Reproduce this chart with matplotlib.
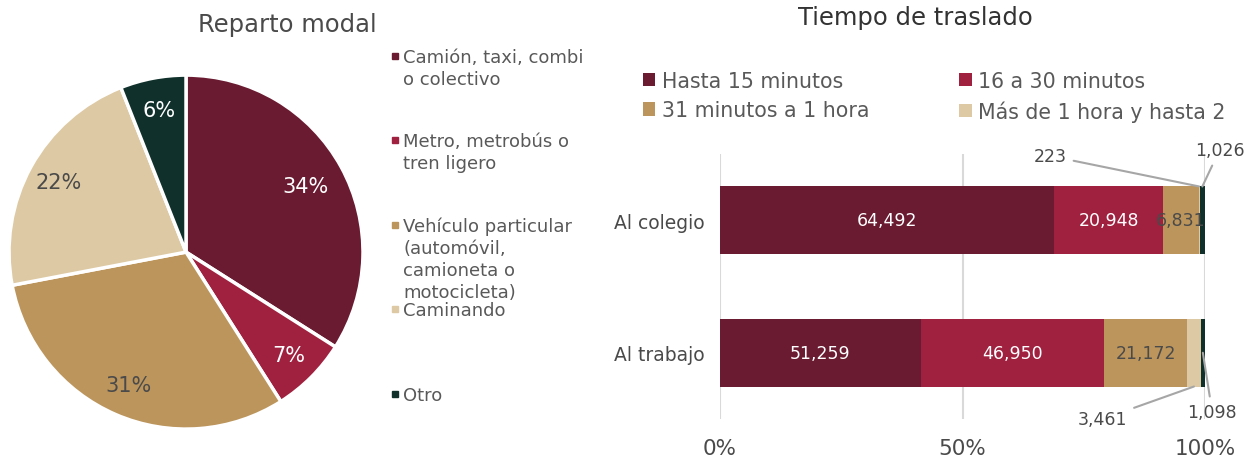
import numpy as np
import matplotlib.pyplot as plt
from matplotlib.patches import Rectangle

plt.rcParams['font.family'] = ['DejaVu Sans']

# reparto modal (porcentajes)
modos = ['Camión, taxi, combi\no colectivo', 'Metro, metrobús o\ntren ligero',
         'Vehículo particular\n(automóvil,\ncamioneta o\nmotocicleta)', 'Caminando', 'Otro']
modos_pct = [34, 7, 31, 22, 6]

# tiempo de traslado (personas)
destinos = ['Al trabajo', 'Al colegio']
rangos = ['Hasta 15 minutos', '16 a 30 minutos', '31 minutos a 1 hora',
          'Más de 1 hora y hasta 2', 'Más de 2 horas']
colegio = [64492, 20948, 6831, 223, 1026]
trabajo = [51259, 46950, 21172, 3461, 1098]

colores = ['#6a1b31', '#a0213f', '#bc955c', '#ddc9a3', '#10312b']
gris = '#4a4a4a'
gris_txt = '#595959'

fig = plt.figure(figsize=(12.53, 4.6), dpi=100)

# ---- pie ----
ax1 = fig.add_axes([0.0072, 0.065, 0.2825, 0.7696])
wedges, _, autotexts = ax1.pie(modos_pct, colors=colores, startangle=90, counterclock=False,
                               autopct='%d%%', pctdistance=0.82,
                               wedgeprops=dict(edgecolor='white', linewidth=2.5),
                               textprops=dict(fontsize=15))
for t, c in zip(autotexts, ['white', 'white', gris, gris, 'white']):
    t.set_color(c)
# la etiqueta del sector mayor va un poco más adentro
x0, y0 = autotexts[0].get_position()
autotexts[0].set_position((x0 * 0.77 / 0.82, y0 * 0.77 / 0.82))
ax1.set_xlim(-1.0, 1.0)
ax1.set_ylim(-1.0, 1.0)
fig.text(287 / 1253, 1 - 25 / 460, 'Reparto modal', ha='center', va='center',
         fontsize=17.5, color=gris)

# leyenda del pie, espaciado irregular
ys = [57, 141, 226, 310, 395]
for lab, y, c in zip(modos, ys, colores):
    fig.patches.append(Rectangle((392 / 1253, 1 - (y + 3) / 460), 6 / 1253, 6 / 460,
                                 transform=fig.transFigure, color=c))
    fig.text(403 / 1253, 1 - (y - 8) / 460, lab, ha='left', va='top', fontsize=13,
             color=gris_txt, linespacing=1.27)

# ---- barras ----
ax2 = fig.add_axes([720 / 1253, 1 - 420 / 460, 485 / 1253, 265 / 460])
datos = np.array([trabajo, colegio], dtype=float)
totales = datos.sum(axis=1)
pct = datos / totales[:, None] * 100
izq = np.zeros(2)
ypos = np.arange(len(destinos))
handles = []
for i in range(len(rangos)):
    b = ax2.barh(ypos, pct[:, i], left=izq, height=0.51, color=colores[i], zorder=3)
    handles.append(b)
    for j in range(2):
        if i < 3:
            val = datos[j, i]
            ax2.text(izq[j] + pct[j, i] / 2, ypos[j], f'{val:,.0f}', ha='center', va='center',
                     fontsize=12.5, color='white' if i < 2 else gris, zorder=4)
    izq += pct[:, i]

# etiquetas con línea guía para segmentos pequeños
def guia(j, i, dy, xt, yt, ha):
    x = pct[j, :i].sum() + pct[j, i] / 2
    ax2.annotate(f'{datos[j, i]:,.0f}', xy=(x, ypos[j] + dy), xytext=(xt, yt), ha=ha,
                 va='center', fontsize=12.5, color=gris, annotation_clip=False,
                 arrowprops=dict(arrowstyle='-', color='#a6a6a6', lw=1.5,
                                 shrinkA=3, shrinkB=0), zorder=5)

guia(1, 3, 0.255, 71.5, 1.485, 'right')
guia(1, 4, 0.255, 103, 1.53, 'center')
guia(0, 3, -0.255, 84, -0.5, 'right')
guia(0, 4, 0.0, 101.5, -0.45, 'center')

ax2.set_xlim(0, 100)
ax2.set_ylim(-0.5, 1.5)
ax2.set_yticks(ypos, destinos)
ax2.set_xticks([0, 50, 100], ['0%', '50%', '100%'])
ax2.tick_params(axis='y', length=0, labelsize=13.5, labelcolor=gris, pad=11)
ax2.tick_params(axis='x', length=0, labelsize=15.5, labelcolor=gris, pad=14)
ax2.grid(axis='x', color='#d9d9d9', lw=1.5, zorder=0)
for s in ax2.spines.values():
    s.set_visible(False)

fig.text(915 / 1253, 1 - 18 / 460, 'Tiempo de traslado', ha='center', va='center',
         fontsize=17.5, color='#333333')
orden = [0, 2, 1, 3]
fig.legend([handles[k] for k in orden], [rangos[k] for k in orden], loc='upper left',
           bbox_to_anchor=(643 / 1253, 1 - 72 / 460), ncol=2, frameon=False,
           fontsize=14.8, labelcolor=gris_txt, handlelength=0.6, handleheight=0.6,
           handletextpad=0.3, columnspacing=4.4, labelspacing=0.45, borderaxespad=0,
           borderpad=0)

fig.savefig('out.png', dpi=100)
